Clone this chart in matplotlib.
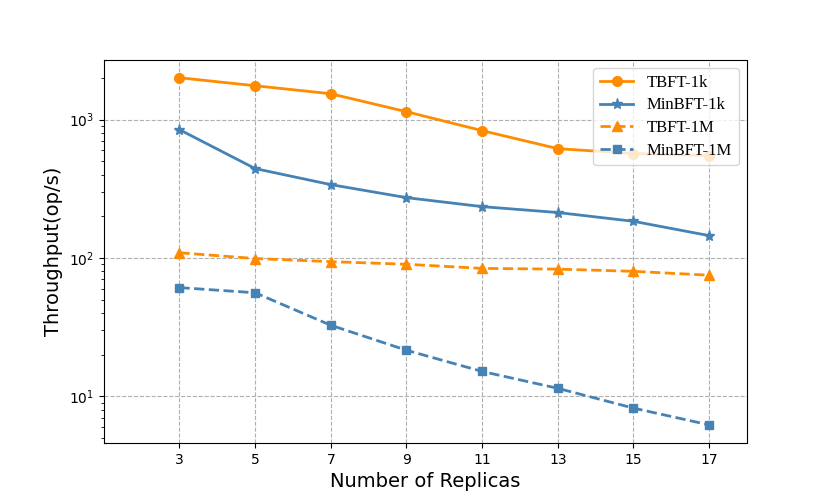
import numpy as np
import matplotlib
matplotlib.use("Agg")
import matplotlib.pyplot as plt

# Données
replicas = [3, 5, 7, 9, 11, 13, 15, 17]
tbft_1k = [2010, 1760, 1540, 1142, 833, 617, 569, 550]
minbft_1k = [847, 443, 339, 273, 235, 213, 184, 145]
tbft_1m = [109, 99, 94, 90, 84, 83, 80, 75]
minbft_1m = [61, 56, 32.6, 21.5, 15.1, 11.4, 8.2, 6.2]

fig, ax = plt.subplots(figsize=(8.3, 4.98), dpi=100)

ax.plot(replicas, tbft_1k, color='darkorange', marker='o', linestyle='-',
        linewidth=2, markersize=7, label="TBFT-1k")
ax.plot(replicas, minbft_1k, color='steelblue', marker='*', linestyle='-',
        linewidth=2, markersize=8, label="MinBFT-1k")
ax.plot(replicas, tbft_1m, color='darkorange', marker='^', linestyle='--',
        linewidth=2, markersize=6.5, label="TBFT-1M")
ax.plot(replicas, minbft_1m, color='steelblue', marker='s', linestyle='--',
        linewidth=2, markersize=6, label="MinBFT-1M")

ax.set_yscale('log')
ax.set_xlim(1, 18)
ax.set_ylim(4.57, 2712)
ax.set_xticks(replicas)
ax.grid(which='major', color='#b0b0b0', linestyle='--', linewidth=0.8)

ax.set_xlabel("Number of Replicas", fontsize=14)
ax.set_ylabel("Throughput(op/s)", fontsize=14)

ax.legend(loc='upper right', labelspacing=0.4,
          prop={'family': 'Liberation Serif', 'size': 12})

fig.savefig("out.png", dpi=100)
